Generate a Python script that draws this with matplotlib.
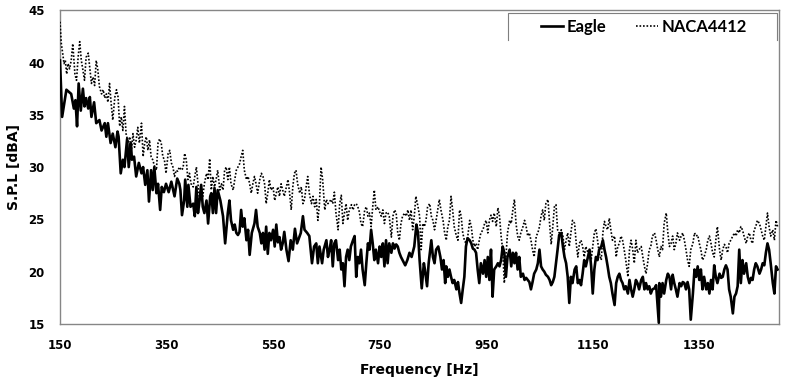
import matplotlib
matplotlib.use("Agg")
import matplotlib.pyplot as plt

# Eagle (solid), peak/trough points
eagle_hz = [150, 154, 162, 171, 176, 179, 182, 185, 189, 193,
            196, 199, 203, 206, 209, 214, 218, 224, 228, 234,
            237, 240, 245, 249, 254, 258, 260, 264, 268, 271,
            276, 279, 283, 285, 289, 293, 298, 303, 306, 310,
            314, 317, 321, 324, 327, 331, 334, 338, 341, 345,
            349, 354, 359, 365, 370, 374,
            376, 379, 383, 385, 389, 391, 395, 400, 403, 406,
            409, 412, 415, 418, 421, 425, 428, 432, 434, 437,
            440, 443, 446, 451, 456, 460, 465, 468, 471, 475,
            478, 481, 484, 487, 490, 493, 496, 500, 503, 506,
            510, 515, 518, 521, 525, 528, 531, 534, 537, 540,
            543, 546, 550, 553, 556, 559, 562, 565, 568, 571,
            575, 579, 583, 587, 591, 595,
            602, 606, 609, 614, 618, 623, 627, 631, 634, 637,
            642, 645, 650, 653, 656, 659, 662, 665, 668, 672,
            675, 678, 681, 684, 687, 690, 693, 696, 700, 703,
            706, 709, 712, 715, 718, 722, 725, 728, 731, 734,
            737, 740, 743, 747, 750, 753, 756, 759, 762, 765,
            768, 772, 775, 778, 781, 784, 787, 790, 793, 798,
            802, 806, 810, 815, 819,
            822, 825, 829, 833, 835, 839, 842, 847, 850, 853,
            856, 860, 864, 867, 870, 873, 875, 878, 881, 884,
            887, 890, 894, 897, 900, 903, 906, 909, 912, 915,
            919, 922, 925, 928, 931, 934, 937, 940, 944, 947,
            950, 953, 956, 959, 962, 965, 969, 972, 975, 978,
            981, 984, 987, 990, 994, 997, 1000, 1003, 1006, 1009,
            1012, 1015, 1019, 1022, 1025, 1028, 1031, 1034, 1037, 1040,
            1044,
            1047, 1050, 1053, 1056, 1059, 1062, 1066, 1069, 1072, 1075,
            1078, 1081, 1084, 1087, 1091, 1094, 1097, 1100, 1103, 1106,
            1109, 1112, 1116, 1119, 1122, 1125, 1128, 1131, 1134, 1137,
            1141, 1144, 1147, 1150, 1153, 1156, 1159, 1162, 1166, 1169,
            1172, 1175, 1178, 1181, 1184, 1187, 1191, 1194, 1197, 1200,
            1203, 1206, 1209, 1212, 1216, 1219, 1222, 1225, 1228, 1231,
            1234, 1237, 1241, 1244, 1247, 1250, 1253, 1256, 1259, 1262,
            1266, 1269, 1272, 1274,
            1275, 1278, 1281, 1284, 1288, 1291, 1294, 1297, 1300, 1303,
            1306, 1309, 1313, 1316, 1319, 1322, 1325, 1328, 1331, 1334,
            1338, 1341, 1344, 1347, 1350, 1353, 1356, 1359, 1363, 1366,
            1369, 1372, 1375, 1378, 1381, 1384, 1388, 1391, 1394, 1397,
            1400, 1403, 1406, 1409, 1413, 1416, 1419, 1422, 1425, 1428,
            1431, 1434, 1438, 1441, 1444, 1447, 1450, 1453, 1456, 1459,
            1463, 1466, 1469, 1472, 1475, 1478, 1481, 1484, 1488, 1491,
            1494, 1497]
eagle_spl = [40.2, 34.8, 37.4, 37.0, 35.6, 36.4, 33.9, 38.0, 35.4, 37.5,
             35.8, 36.6, 35.6, 36.7, 34.8, 36.2, 34.2, 34.5, 33.5, 34.2,
             32.9, 34.2, 32.3, 33.2, 31.9, 33.4, 32.9, 29.4, 30.7, 30.0,
             32.7, 30.0, 32.3, 30.7, 31.0, 29.1, 30.4, 29.4, 30.0, 28.3,
             29.7, 26.7, 29.7, 27.8, 30.0, 27.5, 28.4, 25.9, 28.1, 27.6,
             28.4, 27.6, 28.6, 27.2, 28.9, 28.4,
             27.8, 25.4, 26.8, 28.8, 26.2, 28.3, 26.2, 26.5, 25.3, 28.1,
             25.6, 26.8, 28.3, 26.2, 25.6, 26.8, 24.6, 27.2, 27.5, 25.6,
             28.0, 25.6, 27.8, 26.8, 25.3, 22.7, 25.6, 26.8, 24.9, 24.0,
             24.5, 23.7, 23.5, 23.8, 25.9, 24.3, 25.1, 23.0, 24.0, 21.6,
             23.7, 24.6, 25.9, 24.3, 23.7, 22.7, 23.7, 22.1, 24.3, 21.7,
             23.7, 23.0, 24.0, 22.4, 24.5, 22.8, 23.3, 22.1, 22.7, 23.8,
             22.1, 21.0, 23.0, 22.1, 24.1, 22.7,
             23.7, 25.3, 24.0, 23.7, 23.4, 20.8, 22.4, 22.7, 20.8, 22.4,
             20.8, 22.1, 23.0, 21.4, 22.1, 23.0, 20.5, 22.7, 23.0, 21.1,
             22.1, 20.2, 20.8, 18.6, 21.4, 22.1, 21.1, 22.4, 23.0, 23.4,
             19.5, 21.4, 20.8, 22.1, 20.2, 18.7, 20.8, 22.7, 22.1, 24.0,
             22.7, 21.1, 22.1, 20.8, 22.4, 21.4, 22.7, 20.5, 23.0, 20.8,
             22.7, 21.8, 22.7, 22.2, 22.6, 22.4, 21.8, 21.4, 21.1, 20.6,
             21.1, 21.8, 21.4, 22.4, 24.5,
             23.7, 21.1, 18.4, 20.8, 20.2, 18.6, 20.8, 23.0, 21.4, 20.8,
             22.1, 22.4, 21.4, 20.2, 21.1, 18.9, 20.5, 19.5, 20.2, 19.5,
             18.9, 19.2, 18.3, 19.0, 17.9, 17.0, 18.3, 19.5, 22.4, 23.2,
             23.0, 22.7, 22.2, 22.1, 21.8, 20.2, 18.9, 20.8, 19.8, 21.1,
             19.5, 21.4, 19.2, 22.1, 17.6, 20.2, 20.5, 20.8, 20.5, 21.1,
             22.4, 21.8, 19.5, 21.4, 22.1, 20.5, 21.8, 20.8, 21.8, 20.2,
             21.4, 19.5, 19.8, 19.2, 19.4, 19.2, 19.0, 18.3, 19.0, 19.8,
             20.2,
             20.8, 22.1, 20.5, 20.2, 20.0, 19.7, 19.5, 19.2, 18.7, 19.0,
             19.5, 20.8, 22.1, 23.5, 23.7, 22.4, 21.4, 20.8, 19.5, 17.0,
             19.5, 18.9, 20.2, 20.5, 18.9, 19.2, 18.7, 19.8, 21.1, 20.5,
             21.4, 22.1, 20.5, 17.9, 20.2, 21.4, 21.1, 22.1, 22.4, 23.0,
             22.1, 21.4, 20.5, 19.5, 18.9, 17.9, 16.8, 18.9, 19.5, 19.8,
             19.2, 18.9, 18.3, 18.6, 17.9, 19.2, 18.3, 17.6, 18.3, 19.2,
             18.9, 18.3, 19.2, 19.5, 18.3, 18.9, 18.3, 18.6, 17.9, 18.3,
             18.4, 18.7, 16.6, 15.1,
             18.9, 17.6, 18.9, 17.9, 19.2, 19.8, 19.5, 18.3, 19.7, 18.9,
             18.3, 17.6, 18.9, 18.6, 19.0, 18.9, 18.3, 19.0, 18.3, 15.4,
             17.9, 20.2, 19.5, 20.5, 19.2, 20.2, 18.3, 19.5, 18.3, 18.9,
             17.9, 19.2, 18.3, 20.6, 19.5, 18.9, 19.8, 19.4, 19.5, 20.2,
             20.6, 20.2, 18.3, 17.6, 16.0, 17.6, 17.9, 18.6, 22.1, 18.9,
             21.1, 19.8, 20.8, 19.5, 18.9, 19.4, 19.2, 20.2, 20.8, 20.5,
             19.8, 20.2, 20.8, 20.6, 21.8, 22.7, 22.1, 20.8, 18.9, 17.9,
             20.5, 20.2]

# NACA4412 (dotted)
naca_hz = [150, 152.5, 155, 157.5, 160, 162.5, 165, 168, 171, 174,
           178, 181, 184, 187, 190, 193, 196, 199, 203, 206,
           209, 212, 215, 218, 221, 224, 228, 231, 234, 237,
           240, 243, 246, 249, 253, 256, 259, 262, 265, 268,
           271, 274, 278, 281, 284, 287, 290, 293, 296, 299,
           303, 306, 309, 312, 315, 318, 321, 324, 328, 331,
           334, 337, 340, 343, 346, 349, 353, 356, 359, 362,
           365, 368, 371, 374,
           378, 381, 384, 387, 390, 393, 396, 400, 403, 406,
           409, 412, 415, 418, 421, 425, 428, 431, 434, 437,
           440, 443, 446, 450, 453, 456, 459, 462, 465, 468,
           471, 475, 478, 481, 484, 487, 490, 493, 496, 500,
           503, 506, 509, 512, 515, 518, 521, 525, 528, 531,
           534, 537, 540, 543, 546, 550, 553, 556, 559, 562,
           565, 568, 571, 575, 578, 581, 584, 587, 590, 593,
           596,
           600, 603, 606, 609, 612, 615, 618, 622, 625, 628,
           631, 634, 637, 640, 643, 647, 650, 653, 656, 659,
           662, 665, 668, 672, 675, 678, 681, 684, 687, 690,
           693, 697, 700, 703, 706, 709, 712, 715, 718, 722,
           725, 728, 731, 734, 737, 740, 743, 747, 750, 753,
           756, 759, 762, 765, 768, 772, 775, 778, 781, 784,
           787, 790, 793, 797, 800, 803, 806, 809, 812, 815,
           818, 822, 825,
           828, 831, 834, 837, 840, 844, 847, 850, 853, 856,
           859, 862, 865, 869, 872, 875, 878, 881, 884, 887,
           890, 894, 897, 900, 903, 906, 909, 912, 915, 919,
           922, 925, 928, 931, 934, 937, 940, 944, 947, 950,
           953, 956, 959, 962, 965, 969, 972, 975, 978, 981,
           984, 987, 990, 994, 997, 1000, 1003, 1006, 1009, 1012,
           1015, 1019, 1022, 1025, 1028, 1031, 1034, 1037, 1040, 1044,
           1047,
           1050, 1053, 1056, 1059, 1062, 1066, 1069, 1072, 1075, 1078,
           1081, 1084, 1087, 1091, 1094, 1097, 1100, 1103, 1106, 1109,
           1112, 1116, 1119, 1122, 1125, 1128, 1131, 1134, 1137, 1141,
           1144, 1147, 1150, 1153, 1156, 1159, 1162, 1166, 1169, 1172,
           1175, 1178, 1181, 1184, 1187, 1191, 1194, 1197, 1200, 1203,
           1206, 1209, 1212, 1216, 1219, 1222, 1225, 1228, 1231, 1234,
           1237, 1241, 1244, 1247, 1250, 1253, 1256, 1259, 1262, 1266,
           1269, 1272,
           1275, 1278, 1281, 1284, 1288, 1291, 1294, 1297, 1300, 1303,
           1306, 1309, 1313, 1316, 1319, 1322, 1325, 1328, 1331, 1334,
           1338, 1341, 1344, 1347, 1350, 1353, 1356, 1359, 1363, 1366,
           1369, 1372, 1375, 1378, 1381, 1384, 1388, 1391, 1394, 1397,
           1400, 1403, 1406, 1409, 1413, 1416, 1419, 1422, 1425, 1428,
           1431, 1434, 1438, 1441, 1444, 1447, 1450, 1453, 1456, 1459,
           1463, 1466, 1469, 1472, 1475, 1478, 1481, 1484, 1488, 1491,
           1494, 1497]
naca_spl = [43.9, 41.8, 40.9, 39.9, 40.2, 38.9, 39.9, 39.4, 40.2, 41.8,
            38.9, 38.3, 40.5, 42.0, 40.2, 39.3, 38.3, 40.5, 40.9, 39.4,
            38.0, 38.6, 37.8, 40.2, 39.3, 37.7, 37.0, 37.4, 36.6, 37.0,
            36.2, 38.0, 36.1, 34.5, 36.7, 37.4, 36.7, 33.9, 34.8, 33.5,
            35.8, 33.2, 32.3, 32.9, 31.6, 33.2, 31.9, 32.6, 33.8, 32.3,
            34.2, 31.0, 32.3, 32.9, 31.6, 32.6, 31.0, 30.7, 30.0, 29.7,
            32.3, 32.7, 32.3, 31.0, 30.7, 29.4, 31.3, 31.6, 30.4, 30.0,
            29.1, 29.7, 29.6, 30.0,
            29.7, 29.9, 31.3, 30.7, 28.8, 29.4, 28.4, 28.1, 29.1, 30.0,
            28.4, 26.8, 28.1, 27.2, 28.4, 29.4, 28.8, 30.8, 27.8, 29.1,
            28.1, 28.8, 29.7, 27.8, 28.4, 27.8, 29.7, 30.0, 28.8, 30.0,
            28.4, 27.8, 28.8, 29.7, 30.0, 30.3, 31.0, 31.6, 29.7, 28.8,
            29.1, 28.4, 27.5, 28.4, 29.1, 28.4, 27.5, 28.8, 29.4, 29.1,
            28.4, 26.5, 27.5, 28.8, 27.8, 28.1, 26.8, 27.5, 28.1, 27.2,
            28.4, 27.8, 27.2, 28.1, 28.8, 27.5, 25.9, 28.1, 29.4, 29.7,
            28.4,
            27.5, 28.1, 26.5, 26.9, 28.1, 29.1, 27.5, 26.5, 27.2, 26.2,
            26.9, 24.9, 26.5, 30.0, 28.8, 25.9, 26.9, 26.5, 26.7, 26.9,
            26.5, 27.6, 25.6, 24.0, 26.5, 27.3, 24.6, 25.6, 26.5, 24.9,
            25.9, 26.4, 25.9, 26.4, 26.5, 26.2, 25.7, 24.6, 24.3, 25.9,
            26.2, 25.3, 25.6, 24.3, 26.2, 27.8, 25.9, 26.2, 25.7, 25.3,
            25.9, 24.6, 25.6, 25.7, 25.3, 23.3, 25.3, 25.9, 25.6, 23.7,
            23.0, 24.6, 25.3, 25.6, 25.3, 25.9, 24.9, 25.9, 24.0, 25.3,
            27.2, 26.2, 25.3,
            22.1, 24.6, 24.3, 24.9, 26.2, 26.5, 25.3, 24.9, 24.0, 24.9,
            25.9, 26.9, 25.9, 24.9, 23.7, 23.0, 24.3, 24.9, 27.2, 25.9,
            24.3, 23.4, 23.0, 25.9, 25.3, 23.7, 23.0, 22.7, 23.2, 24.9,
            24.3, 23.0, 22.4, 22.7, 22.1, 23.0, 23.7, 24.0, 24.6, 24.9,
            23.7, 24.9, 25.4, 24.8, 25.6, 24.3, 26.1, 25.3, 23.4, 22.1,
            18.9, 21.4, 23.7, 24.9, 24.6, 25.9, 26.9, 24.6, 23.4, 23.0,
            23.7, 24.3, 24.9, 24.3, 23.4, 23.7, 23.0, 22.1, 21.4, 23.4,
            23.7,
            24.3, 25.3, 25.9, 24.9, 26.5, 26.9, 24.6, 22.6, 24.3, 26.2,
            26.4, 24.0, 23.7, 24.0, 23.4, 22.1, 23.0, 23.7, 22.4, 23.7,
            24.9, 24.6, 22.7, 21.4, 22.7, 23.0, 22.4, 21.4, 22.4, 21.8,
            22.1, 21.1, 22.4, 23.7, 24.1, 23.0, 21.8, 21.1, 23.7, 24.8,
            24.3, 24.0, 25.1, 24.0, 23.0, 23.4, 21.4, 22.4, 22.7, 23.4,
            23.0, 22.1, 21.1, 19.5, 22.1, 23.0, 22.1, 20.8, 23.0, 21.8,
            22.1, 22.4, 21.4, 20.5, 19.8, 20.8, 22.1, 22.4, 23.4, 23.7,
            23.0, 22.1,
            21.4, 22.4, 22.1, 24.6, 25.6, 23.7, 22.4, 22.7, 23.4, 22.1,
            22.7, 23.7, 23.0, 23.4, 23.7, 23.0, 22.1, 21.1, 20.5, 22.1,
            22.7, 23.7, 23.4, 23.5, 22.7, 22.1, 21.1, 21.4, 22.1, 23.0,
            23.4, 22.7, 21.8, 21.4, 23.0, 24.3, 22.1, 21.1, 22.1, 22.6,
            22.4, 21.8, 22.7, 23.0, 23.4, 23.7, 23.4, 24.0, 23.7, 24.3,
            24.0, 23.4, 22.7, 23.4, 23.7, 23.0, 22.7, 24.0, 24.3, 24.9,
            24.6, 24.0, 23.4, 23.0, 24.3, 25.6, 24.3, 23.4, 24.0, 23.0,
            24.9, 24.3]

x_ticks = [150, 350, 550, 750, 950, 1150, 1350]
y_ticks = [15, 20, 25, 30, 35, 40, 45]

fig = plt.figure(figsize=(8, 3.81), dpi=100)
ax = fig.add_axes([0.075, 0.15, 0.899, 0.823])

ax.plot(naca_hz, naca_spl, color="black", lw=1.2, linestyle=(0, (1, 1.1)), label="NACA4412", zorder=3)
ax.plot(eagle_hz, eagle_spl, color="black", lw=1.9, label="Eagle", zorder=3)

ax.set_xlim(150, 1500)
ax.set_ylim(15, 45)
ax.set_xticks(x_ticks)
ax.set_yticks(y_ticks)
ax.tick_params(length=0, labelsize=8.5)
ax.tick_params(axis="x", pad=11)
ax.tick_params(axis="y", pad=11)
for lab in ax.get_xticklabels() + ax.get_yticklabels():
    lab.set_fontweight("bold")

for s in ax.spines.values():
    s.set_color("#868686")
    s.set_linewidth(1.0)

ax.set_xlabel("Frequency [Hz]", fontsize=10, fontweight="bold", labelpad=8)
ax.set_ylabel("S.P.L [dBA]", fontsize=10, fontweight="bold", labelpad=5)

# legend (Eagle first), box open at the bottom like the original
h, l = ax.get_legend_handles_labels()
leg = ax.legend(h[::-1], l[::-1], loc="center", bbox_to_anchor=(0.812, 0.947), ncol=2,
                frameon=False, handlelength=1.3, handletextpad=0.2, columnspacing=1.8,
                prop={"family": "Lato", "weight": "bold", "size": 12})
ax.plot([0.623, 0.623, 0.997, 0.997], [0.906, 0.992, 0.992, 0.906], transform=ax.transAxes,
        color="#7f7f7f", lw=0.8, clip_on=False)

fig.savefig("out.png", dpi=100)
